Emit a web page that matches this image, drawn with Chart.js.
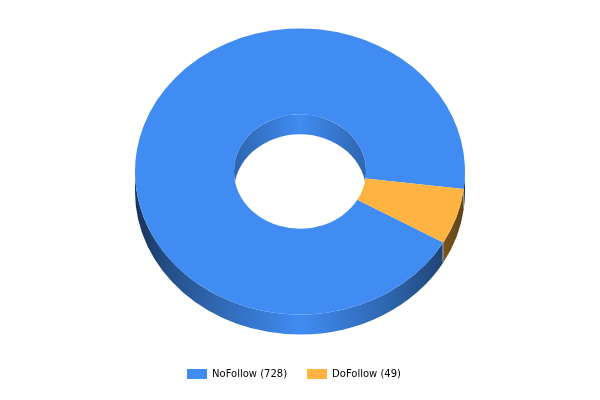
<!DOCTYPE html>
<html>
<head>
<meta charset="utf-8">
<script src="https://cdn.jsdelivr.net/npm/chart.js@4/dist/chart.umd.js"></script>
<style>
    html, body { margin: 0; padding: 0; background: #fff; }
    canvas { display: block; }
</style>
</head>
<body>
<canvas id="linkChartCanvas" width="600" height="400"></canvas>
<script>
const categories = ['NoFollow', 'DoFollow'];
const linkCounts = [728, 49];
const sliceColors = ['#408cf2', '#ffb340'];

const tiltRatio = 0.867;
const wallDepth = 20;
const faceCenterY = 171.5;
const legendShiftX = -6;

const shade = (hex, amount) => {
    const n = parseInt(hex.slice(1), 16);
    const r = Math.round((n >> 16) * amount);
    const g = Math.round(((n >> 8) & 255) * amount);
    const b = Math.round((n & 255) * amount);
    return `rgb(${r}, ${g}, ${b})`;
};

const outerWallGradient = (ctx, left, right, color) => {
    const gradient = ctx.createLinearGradient(left, 0, right, 0);
    [[0, 0.36], [0.09, 0.55], [0.23, 0.72], [0.5, 1], [0.77, 0.72], [0.91, 0.52], [1, 0.36]].forEach(([stop, amount]) => {
        gradient.addColorStop(stop, shade(color, amount));
    });
    return gradient;
};

const innerWallGradient = (ctx, left, right, color) => {
    const gradient = ctx.createLinearGradient(left, 0, right, 0);
    gradient.addColorStop(0, shade(color, 0.72));
    gradient.addColorStop(0.5, shade(color, 1));
    gradient.addColorStop(1, shade(color, 0.72));
    return gradient;
};

const drawOuterWall = (ctx, arc, color) => {
    const rx = arc.outerRadius;
    const ry = rx * tiltRatio;
    [0, Math.PI * 2].forEach(turn => {
        const from = Math.max(arc.startAngle, turn);
        const to = Math.min(arc.endAngle, turn + Math.PI);
        if (from >= to) {
            return;
        }
        ctx.beginPath();
        ctx.ellipse(arc.x, faceCenterY, rx, ry, 0, from, to);
        ctx.ellipse(arc.x, faceCenterY + wallDepth, rx, ry, 0, to, from, true);
        ctx.closePath();
        ctx.fillStyle = outerWallGradient(ctx, arc.x - rx, arc.x + rx, color);
        ctx.fill();
    });
};

// pale line where two slices meet on the outer wall
const drawWallSeam = (ctx, arc) => {
    const x = Math.round(arc.x + arc.outerRadius * Math.cos(arc.startAngle)) - 0.5;
    const y = faceCenterY + arc.outerRadius * tiltRatio * Math.sin(arc.startAngle);
    ctx.beginPath();
    ctx.moveTo(x, y);
    ctx.lineTo(x, y + wallDepth);
    ctx.strokeStyle = 'rgba(255, 255, 255, 0.3)';
    ctx.lineWidth = 1;
    ctx.stroke();
};

const drawInnerWall = (ctx, arc, color) => {
    const rx = arc.innerRadius;
    const ry = rx * tiltRatio;
    ctx.save();
    ctx.beginPath();
    ctx.ellipse(arc.x, faceCenterY, rx, ry, 0, 0, Math.PI * 2);
    ctx.clip();
    ctx.beginPath();
    ctx.rect(arc.x - rx - 2, faceCenterY - ry - 2, rx * 2 + 4, ry * 2 + wallDepth + 4);
    ctx.ellipse(arc.x, faceCenterY + wallDepth, rx, ry, 0, 0, Math.PI * 2);
    ctx.clip('evenodd');
    ctx.fillStyle = innerWallGradient(ctx, arc.x - rx, arc.x + rx, color);
    ctx.fillRect(arc.x - rx - 2, faceCenterY - ry - 2, rx * 2 + 4, ry * 2 + wallDepth + 4);
    ctx.restore();
};

const tiltPlugin = {
    id: 'tilt',
    afterLayout(chart) {
        chart.legend.left += legendShiftX;
        chart.legend.right += legendShiftX;
    },
    beforeDatasetsDraw(chart) {
        const ctx = chart.ctx;
        const arcs = chart.getDatasetMeta(0).data;
        arcs.forEach((arc, i) => drawOuterWall(ctx, arc, sliceColors[i]));
        arcs.forEach(arc => drawWallSeam(ctx, arc));
        drawInnerWall(ctx, arcs[0], sliceColors[0]);
        ctx.save();
        ctx.translate(0, faceCenterY);
        ctx.scale(1, tiltRatio);
        ctx.translate(0, -arcs[0].y);
    },
    afterDatasetsDraw(chart) {
        chart.ctx.restore();
    }
};

new Chart(document.getElementById('linkChartCanvas').getContext('2d'), {
    type: 'doughnut',
    data: {
        labels: categories.map((name, i) => `${name} (${linkCounts[i]})`),
        datasets: [{
            data: linkCounts,
            backgroundColor: sliceColors,
            borderWidth: 0
        }]
    },
    options: {
        responsive: false,
        animation: false,
        rotation: 119.7,
        radius: 165,
        cutout: '40%',
        layout: {
            padding: { bottom: 11 }
        },
        plugins: {
            legend: {
                display: true,
                position: 'bottom',
                labels: {
                    boxWidth: 20,
                    boxHeight: 10,
                    padding: 20,
                    color: '#000',
                    font: { family: 'DejaVu Sans', size: 10 }
                }
            },
            tooltip: { enabled: false }
        }
    },
    plugins: [tiltPlugin]
});
</script>
</body>
</html>
